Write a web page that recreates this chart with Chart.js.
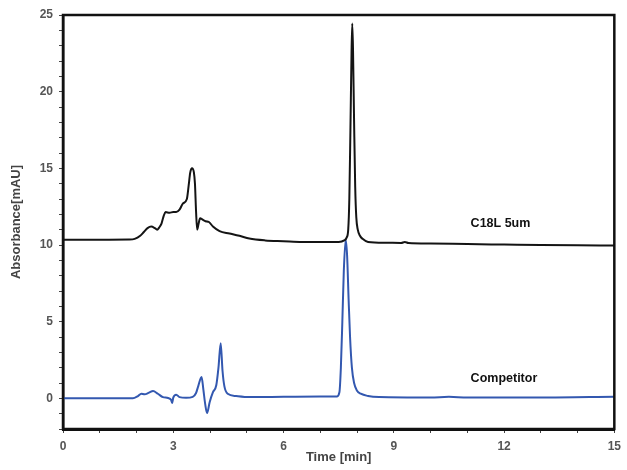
<!DOCTYPE html>
<html>
<head>
<meta charset="utf-8">
<script src="https://cdn.jsdelivr.net/npm/chart.js@4.4.1/dist/chart.umd.min.js"></script>
<style>
  html, body { margin: 0; padding: 0; background: #fff; }
  #wrap { width: 627px; height: 470px; }
</style>
</head>
<body>
<div id="wrap"><canvas id="chrom"></canvas></div>
<script>
// ===== DATA =====
// C18L 5um trace (time in min, absorbance in mAU)
const c18Time = [0, 1.0, 1.8, 1.95, 2.1, 2.2, 2.3, 2.4, 2.5, 2.56, 2.62, 2.68, 2.74, 2.79, 2.9, 3.0, 3.08, 3.17, 3.26, 3.37, 3.42, 3.46, 3.51, 3.56, 3.59, 3.62, 3.65, 3.69, 3.73, 3.8, 3.88, 3.97, 4.08, 4.26, 4.53, 4.8, 5.07, 5.5, 6.0, 6.5, 7.0, 7.5, 7.65, 7.72, 7.76, 7.79, 7.82, 7.85, 7.87, 7.89, 7.92, 7.95, 7.98, 8.02, 8.08, 8.15, 8.3, 8.8, 9.2, 9.3, 9.4, 10, 11, 12, 13, 14, 15];
const c18Abs = [10.35, 10.35, 10.36, 10.4, 10.6, 10.85, 11.1, 11.2, 11.1, 11.0, 11.15, 11.4, 11.9, 12.15, 12.1, 12.15, 12.15, 12.3, 12.7, 13.0, 13.9, 14.7, 15.0, 14.75, 14.0, 12.2, 11.0, 11.4, 11.75, 11.65, 11.55, 11.5, 11.2, 10.9, 10.75, 10.6, 10.42, 10.3, 10.25, 10.2, 10.2, 10.2, 10.3, 10.5, 11.0, 13.0, 17.5, 22.5, 24.45, 22.8, 18.0, 13.8, 11.8, 11.0, 10.6, 10.4, 10.2, 10.15, 10.13, 10.2, 10.13, 10.1, 10.06, 10.03, 10.0, 9.98, 9.97];

// Competitor trace
const compTime = [0, 1.9, 2.04, 2.13, 2.22, 2.34, 2.45, 2.58, 2.72, 2.86, 2.94, 2.97, 3.0, 3.08, 3.17, 3.35, 3.53, 3.62, 3.68, 3.77, 3.82, 3.87, 3.92, 3.99, 4.08, 4.17, 4.23, 4.29, 4.34, 4.39, 4.48, 4.71, 5.07, 6.0, 7.0, 7.45, 7.52, 7.56, 7.6, 7.64, 7.69, 7.73, 7.77, 7.81, 7.86, 7.92, 8.0, 8.1, 8.3, 8.6, 10, 10.5, 11, 13, 15];
const compAbs = [0.0, 0.0, 0.15, 0.3, 0.26, 0.37, 0.48, 0.3, 0.08, 0.02, -0.1, -0.3, 0.05, 0.24, 0.08, 0.04, 0.1, 0.35, 0.8, 1.39, 0.55, -0.4, -0.96, -0.25, 0.4, 0.85, 2.0, 3.6, 1.8, 0.8, 0.3, 0.15, 0.08, 0.1, 0.12, 0.12, 0.4, 2.0, 5.0, 8.3, 10.35, 9.3, 6.5, 4.0, 2.0, 1.0, 0.5, 0.3, 0.15, 0.08, 0.05, 0.1, 0.05, 0.05, 0.1];

// axis ticks
const xTicks = [0, 1, 2, 3, 4, 5, 6, 7, 8, 9, 10, 11, 12, 13, 14, 15];
const xLabelTicks = [0, 3, 6, 9, 12, 15];
const yTicks = [-2, -1, 0, 1, 2, 3, 4, 5, 6, 7, 8, 9, 10, 11, 12, 13, 14, 15, 16, 17, 18, 19, 20, 21, 22, 23, 24, 25];
const yLabelTicks = [0, 5, 10, 15, 20, 25];

// trace names, drawn next to the baselines (data units)
const seriesNames = ["C18L 5um", "Competitor"];
const nameAnchors = [{ x: 11.09, y: 11.42 }, { x: 11.09, y: 1.3 }];

const toPoints = (ts, vs) => ts.map((t, i) => ({ x: t, y: vs[i] }));

/* =========================
   PLUGIN: frame + trace names
========================= */
const framePlugin = {
  id: "frame",
  afterDatasetsDraw(chart) {
    const { ctx, chartArea, scales } = chart;
    ctx.save();
    ctx.strokeStyle = "#111";
    ctx.lineWidth = 2.5;
    ctx.strokeRect(chartArea.left, chartArea.top, chartArea.right - chartArea.left, chartArea.bottom - chartArea.top);

    ctx.fillStyle = "#111";
    ctx.font = "bold 12.5px 'Liberation Sans', Arial, sans-serif";
    ctx.textBaseline = "middle";
    ctx.textAlign = "left";
    seriesNames.forEach((name, i) => {
      ctx.fillText(name, scales.x.getPixelForValue(nameAnchors[i].x), scales.y.getPixelForValue(nameAnchors[i].y));
    });
    ctx.restore();
  }
};

const tickFont = { family: "'Liberation Sans', Arial, sans-serif", size: 12, weight: "bold" };

new Chart(document.getElementById("chrom"), {
  type: "line",
  data: {
    datasets: [
      {
        label: seriesNames[0],
        data: toPoints(c18Time, c18Abs),
        borderColor: "#141414",
        borderWidth: 2,
        pointRadius: 0,
        cubicInterpolationMode: "monotone",
        fill: false
      },
      {
        label: seriesNames[1],
        data: toPoints(compTime, compAbs),
        borderColor: "#3358b0",
        borderWidth: 2,
        pointRadius: 0,
        cubicInterpolationMode: "monotone",
        fill: false
      }
    ]
  },
  options: {
    responsive: true,
    maintainAspectRatio: false,
    animation: false,
    layout: { padding: { left: 0, right: 11, top: 15, bottom: 0 } },
    plugins: {
      legend: { display: false },
      tooltip: { enabled: false }
    },
    scales: {
      x: {
        type: "linear",
        min: 0,
        max: 15,
        afterBuildTicks: (scale) => { scale.ticks = xTicks.map(v => ({ value: v })); },
        afterFit: (scale) => { scale.height = 41; },
        ticks: {
          autoSkip: false,
          maxRotation: 0,
          padding: 6,
          color: "#555",
          font: tickFont,
          callback: (v) => (xLabelTicks.includes(v) ? String(v) : "")
        },
        grid: { drawOnChartArea: false, tickLength: 4, color: "#444" },
        border: { color: "#111", width: 3 },
        title: {
          display: true,
          text: "Time [min]",
          color: "#444",
          font: { family: "'Liberation Sans', Arial, sans-serif", size: 13, weight: "bold" },
          padding: { top: 0, bottom: 5 }
        }
      },
      y: {
        type: "linear",
        min: -2,
        max: 25,
        afterBuildTicks: (scale) => { scale.ticks = yTicks.map(v => ({ value: v })); },
        afterFit: (scale) => { scale.width = 63; },
        ticks: {
          autoSkip: false,
          padding: 6,
          color: "#555",
          font: tickFont,
          callback: (v) => (yLabelTicks.includes(v) ? String(v) : "")
        },
        grid: { drawOnChartArea: false, tickLength: 4, color: "#444" },
        border: { color: "#111", width: 2.5 },
        title: {
          display: true,
          text: "Absorbance[mAU]",
          color: "#444",
          font: { family: "'Liberation Sans', Arial, sans-serif", size: 13, weight: "bold" },
          padding: { top: 9, bottom: 0 }
        }
      }
    }
  },
  plugins: [framePlugin]
});
</script>
</body>
</html>
